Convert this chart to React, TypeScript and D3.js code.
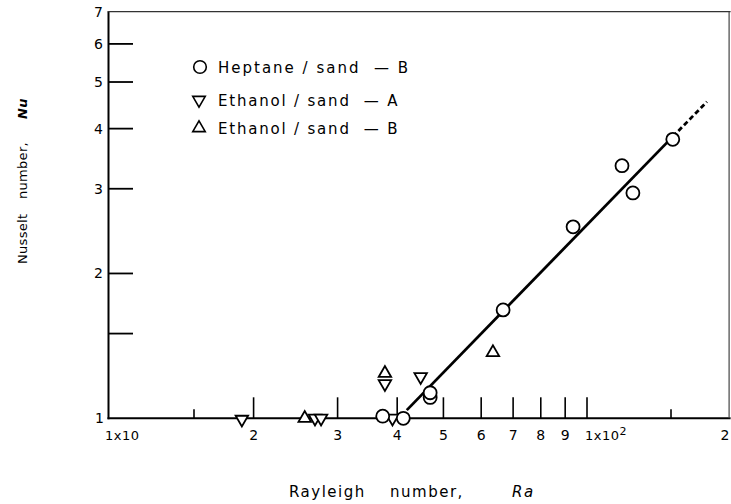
import React from "react";
import * as d3 from "d3";

const heptaneRa = [37.3, 41.2, 46.9, 46.9, 66.7, 93.5, 118.4, 124.8, 151.3];
const heptaneNu = [1.01, 1.0, 1.105, 1.13, 1.68, 2.5, 3.35, 2.94, 3.8];

const ethanolARa = [18.9, 26.9, 27.7, 39.1, 37.7, 44.8];
const ethanolANu = [0.995, 1.0, 1.0, 1.0, 1.18, 1.22];

const ethanolBRa = [25.6, 37.7, 63.5];
const ethanolBNu = [1.0, 1.24, 1.37];

const fitRa = [41.9, 151.3];
const fitNu = [1.04, 3.85];
const extRa = [151.3, 178.4];
const extNu = [3.85, 4.55];

const xMajorTicks = [20, 30, 40, 50, 60, 70, 80, 90, 100];
const xMinorTicks = [15, 150];
const xTickLabels = ["2", "3", "4", "5", "6", "7", "8", "9"];
const yTicks = [6, 5, 4, 3, 2];
const yMinorTicks = [1.5];
const yTickLabels = ["7", "6", "5", "4", "3", "2", "1"];
const yLabelValues = [7, 6, 5, 4, 3, 2, 1];

const legendLabels = ["Heptane / sand  \u2014 B", "Ethanol / sand  \u2014 A", "Ethanol / sand  \u2014 B"];

const W = 731;
const H = 504;
const FONT = "'DejaVu Sans', sans-serif";

export default function App() {
  const x = d3.scaleLog().domain([10, 200]).range([110, 730.6]);
  const y = d3.scaleLog().domain([1, 7]).range([418.3, 11.7]);
  const line = d3
    .line<[number, number]>()
    .x((d) => x(d[0]))
    .y((d) => y(d[1]));

  const tri = (cx: number, cy: number, down: boolean, s = 12.5) => {
    const h = (s * Math.sqrt(3)) / 2;
    if (down) {
      return `M${cx - s / 2},${cy - h / 3}L${cx + s / 2},${cy - h / 3}L${cx},${cy + (2 * h) / 3}Z`;
    }
    return `M${cx - s / 2},${cy + h / 3}L${cx + s / 2},${cy + h / 3}L${cx},${cy - (2 * h) / 3}Z`;
  };

  const x0 = x(10);
  const x1 = x(200);
  const y0 = y(1);
  const y1 = y(7);

  const legendY = [67, 100, 128];

  return (
    <svg
      width={W}
      height={H}
      style={{ position: "absolute", left: 0, top: 0, background: "#fff" }}
      fontFamily={FONT}
    >
      {/* frame */}
      <line x1={x0 - 1.5} x2={x0 - 1.5} y1={y1} y2={y0 + 1} stroke="#000" strokeWidth={2} />
      <line x1={x0 - 2.5} x2={x1} y1={y0} y2={y0} stroke="#000" strokeWidth={2} />
      <line x1={x0 - 2.5} x2={x1} y1={y1} y2={y1} stroke="#333" strokeWidth={1.2} />
      <line x1={x1 - 1.5} x2={x1 - 1.5} y1={y1} y2={y0} stroke="#444" strokeWidth={1.2} />

      {/* y ticks */}
      {yTicks.concat(yMinorTicks).map((t) => (
        <line key={"yt" + t} x1={x0 - 1.5} x2={x0 + 23} y1={y(t)} y2={y(t)} stroke="#000" strokeWidth={1.8} />
      ))}
      {yLabelValues.map((v, i) => (
        <text key={"yl" + v} x={v === 1 ? 104 : 103} y={y(v) + 5} textAnchor="end" fontSize={14}>
          {yTickLabels[i]}
        </text>
      ))}

      {/* x ticks */}
      {xMajorTicks.map((t) => (
        <line key={"xt" + t} x1={x(t)} x2={x(t)} y1={y0} y2={y0 - 21} stroke="#000" strokeWidth={1.6} />
      ))}
      {xMinorTicks.map((t) => (
        <line key={"xm" + t} x1={x(t)} x2={x(t)} y1={y0} y2={y0 - 9} stroke="#000" strokeWidth={1.6} />
      ))}
      {xMajorTicks.slice(0, 8).map((t, i) => (
        <text key={"xl" + t} x={x(t)} y={440} textAnchor="middle" fontSize={14}>
          {xTickLabels[i]}
        </text>
      ))}
      <text x={x0 - 5} y={440} fontSize={13} letterSpacing={0.5}>
        1x10
      </text>
      <text x={x(100) - 2} y={440} fontSize={13} letterSpacing={0.5}>
        1x10<tspan dy={-5} fontSize={11}>2</tspan>
      </text>
      <text x={725} y={440} textAnchor="middle" fontSize={14}>
        2
      </text>

      {/* fit line */}
      <path d={line(fitRa.map((v, i) => [v, fitNu[i]]) as any) || ""} fill="none" stroke="#000" strokeWidth={2.8} />
      <path
        d={line(extRa.map((v, i) => [v, extNu[i]]) as any) || ""}
        fill="none"
        stroke="#000"
        strokeWidth={2.8}
        strokeDasharray="5,3"
      />

      {/* markers */}
      {ethanolARa.map((v, i) => (
        <path key={"ea" + i} d={tri(x(v), y(ethanolANu[i]), true)} fill="#fff" stroke="#000" strokeWidth={1.8} />
      ))}
      {ethanolBRa.map((v, i) => (
        <path key={"eb" + i} d={tri(x(v), y(ethanolBNu[i]), false)} fill="#fff" stroke="#000" strokeWidth={1.8} />
      ))}
      {heptaneRa.map((v, i) => (
        <circle key={"h" + i} cx={x(v)} cy={y(heptaneNu[i])} r={6.5} fill="#fff" stroke="#000" strokeWidth={1.8} />
      ))}

      {/* legend */}
      <circle cx={200} cy={legendY[0]} r={6.3} fill="#fff" stroke="#000" strokeWidth={1.6} />
      <path d={tri(199, legendY[1], true, 12.5)} fill="#fff" stroke="#000" strokeWidth={1.6} />
      <path d={tri(199, legendY[2], false, 12.5)} fill="#fff" stroke="#000" strokeWidth={1.6} />
      {legendLabels.map((l, i) => (
        <text
          key={"lg" + i}
          x={218}
          y={legendY[i] + 5.5}
          fontSize={15}
          letterSpacing={i === 0 ? 2 : 1.8}
          style={{ whiteSpace: "pre" }}
        >
          {l}
        </text>
      ))}

      {/* axis titles */}
      <text x={289} y={497} fontSize={15} letterSpacing={1.5}>
        Rayleigh
      </text>
      <text x={390} y={497} fontSize={15} letterSpacing={1.5}>
        number,
      </text>
      <text x={512} y={497} fontSize={15} fontStyle="italic" letterSpacing={1.5}>
        Ra
      </text>

      <text transform="translate(27,264) rotate(-90)" fontSize={13} letterSpacing={0.3}>
        Nusselt
      </text>
      <text transform="translate(27,199) rotate(-90)" fontSize={13} letterSpacing={0.3}>
        number,
      </text>
      <text transform="translate(27,119) rotate(-90)" fontSize={13} fontStyle="italic" fontWeight="bold" letterSpacing={0.3}>
        Nu
      </text>
    </svg>
  );
}
